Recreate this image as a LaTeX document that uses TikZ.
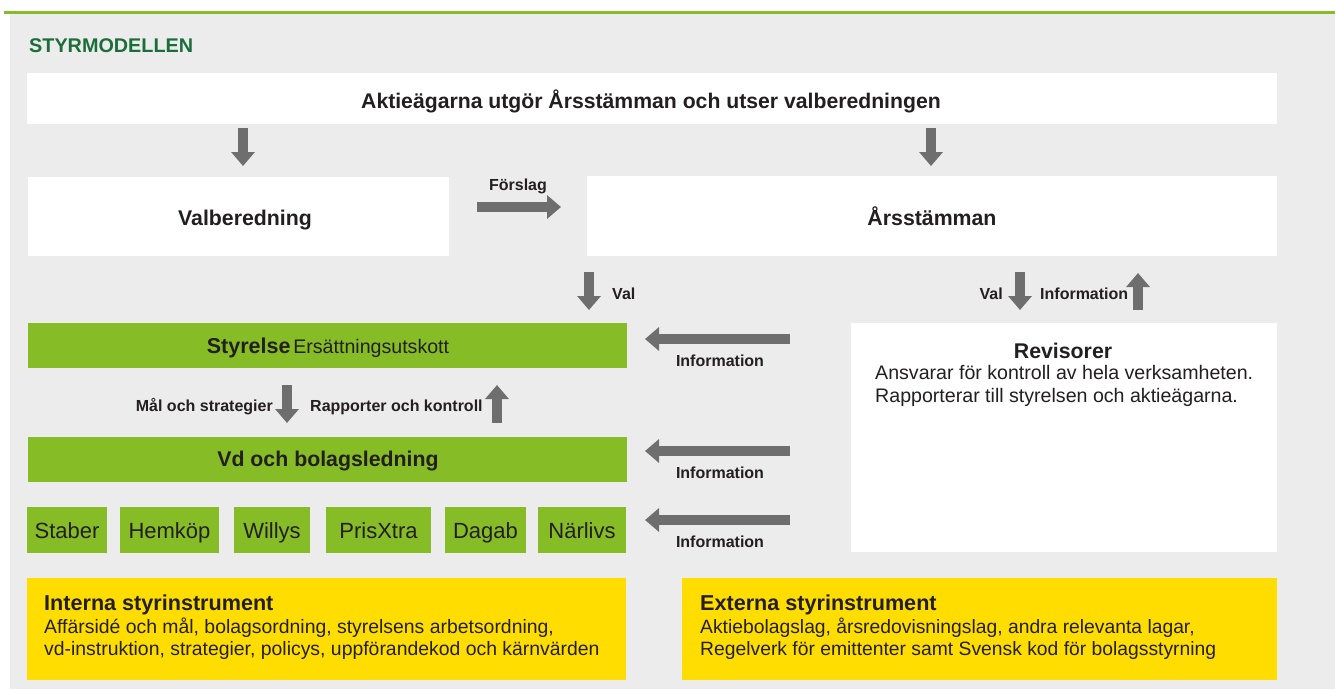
\documentclass[tikz,border=0pt]{standalone}
\usepackage{fontspec}
\setmainfont{Liberation Sans}
\usetikzlibrary{arrows.meta}
\definecolor{bggray}{HTML}{ECECEC}
\definecolor{lgreen}{HTML}{86BC25}
\definecolor{dgreen}{HTML}{1B6E3A}
\definecolor{yel}{HTML}{FFDD00}
\definecolor{agray}{HTML}{6E6E6E}
\definecolor{txt}{HTML}{231F20}
\begin{document}
\begin{tikzpicture}[x=1pt,y=-1pt,
  box/.style={anchor=north west, inner sep=0pt, outer sep=0pt, text=txt},
  wbox/.style={box, fill=white},
  gbox/.style={box, fill=lgreen},
  ybox/.style={box, fill=yel},
  fat/.style={draw=agray, line width=10.5pt, -{Triangle[width=23pt,length=14pt]}},
  lbl/.style={text=txt, inner sep=0pt, font=\fontsize{16}{19}\selectfont\bfseries},
  bigb/.style={font=\fontsize{21.3}{25}\selectfont\bfseries},
  reg/.style={font=\fontsize{19.6}{23}\selectfont},
  txtn/.style={text=txt, inner sep=0pt}
]
\useasboundingbox (0,0) rectangle (1335,689);
\fill[white] (0,0) rectangle (1335,689);
\fill[bggray] (10,14) rectangle (1335,689);
\fill[lgreen] (4,11) rectangle (1335,14);
\node[txtn, anchor=base west, text=dgreen, font=\fontsize{19.8}{23}\selectfont\bfseries] (title) at (29,52) {STYRMODELLEN};

% top box
\node[wbox, minimum width=1250pt, minimum height=51pt] (top) at (27,73) {};
\node[txtn, anchor=base, font=\fontsize{21.2}{25}\selectfont\bfseries] (toptxt) at (651,108.5) {Aktieägarna utgör Årsstämman och utser valberedningen};

\coordinate (a1s) at (243,128); \coordinate (a1e) at (243,166);
\coordinate (a2s) at (931,128); \coordinate (a2e) at (931,166);
\draw[fat] (a1s) -- (a1e);
\draw[fat] (a2s) -- (a2e);

% Valberedning / Årsstämman
\node[wbox, minimum width=421pt, minimum height=79pt] (valb) at (28,177) {};
\node[txtn, bigb, anchor=base] (valbt) at (245,225.5) {Valberedning};
\node[wbox, minimum width=690pt, minimum height=80pt] (ars) at (587,176) {};
\node[txtn, bigb, anchor=base] (arst) at (932,225.5) {Årsstämman};

\node[lbl, anchor=base] (forsl) at (518,190) {Förslag};
\coordinate (f1) at (477,207); \coordinate (f2) at (561,207);
\draw[fat] (f1) -- (f2);

% Val arrows
\coordinate (v1s) at (589,272); \coordinate (v1e) at (589,310);
\draw[fat] (v1s) -- (v1e);
\node[lbl, anchor=base west] (val1) at (612,299) {Val};
\node[lbl, anchor=base east] (val2) at (1003,299) {Val};
\coordinate (v2s) at (1020,272); \coordinate (v2e) at (1020,310);
\draw[fat] (v2s) -- (v2e);
\node[lbl, anchor=base west] (inf0) at (1040,299) {Information};
\coordinate (i0s) at (1138,310); \coordinate (i0e) at (1138,273);
\draw[fat] (i0s) -- (i0e);

% Styrelse
\node[gbox, minimum width=599pt, minimum height=45pt] (styr) at (28,323) {};
\node[txtn, anchor=base] (styrt) at (328,353.5) {{\fontsize{21.5}{25}\selectfont\bfseries Styrelse} {\fontsize{19.6}{23}\selectfont Ersättningsutskott}};

\node[lbl, anchor=base east] (mal) at (273,411) {Mål och strategier};
\coordinate (m1) at (287,385); \coordinate (m2) at (287,423);
\draw[fat] (m1) -- (m2);
\node[lbl, anchor=base west] (rapp) at (310,411) {Rapporter och kontroll};
\coordinate (r1) at (497,423); \coordinate (r2) at (497,385);
\draw[fat] (r1) -- (r2);

% Vd
\node[gbox, minimum width=599pt, minimum height=45pt] (vd) at (28,437) {};
\node[txtn, bigb, anchor=base] (vdt) at (328,466.5) {Vd och bolagsledning};

% small boxes
\foreach \nm/\xa/\xb/\lab in {stab/27/107/Staber, hem/120/219/Hemköp, wil/234/310/Willys, pris/326/431/PrisXtra, dag/445/526/Dagab, nar/538/626/Närlivs}{
  \node[gbox, minimum width={\xb-\xa}, minimum height=46pt] (\nm) at (\xa,507) {};
  \node[txtn, anchor=base, font=\fontsize{22}{25}\selectfont] (\nm t) at ({(\xa+\xb)/2},538) {\lab};
}

% Information arrows
\foreach \y/\nm in {339/ia, 451/ib, 520/ic}{
  \coordinate (\nm s) at (790,\y); \coordinate (\nm e) at (645,\y);
  \draw[fat] (\nm s) -- (\nm e);
  \node[lbl, anchor=base] (\nm l) at (720,\y+27) {Information};
}

% Revisorer
\node[wbox, minimum width=426pt, minimum height=229pt] (rev) at (851,323) {};
\node[txtn, bigb, anchor=base] (revt) at (1063,358.5) {Revisorer};
\node[txtn, reg, anchor=north west, align=left] (revb) at (875,365.5) {Ansvarar för kontroll av hela verksamheten.\\Rapporterar till styrelsen och aktieägarna.};

% Yellow boxes
\node[ybox, minimum width=599pt, minimum height=102pt] (intb) at (27,578) {};
\node[txtn, anchor=north west, align=left, font=\fontsize{19.4}{22.5}\selectfont] (intt) at (44,595) {{\fontsize{21.6}{22.5}\selectfont\bfseries Interna styrinstrument}\\
Affärsidé och mål, bolagsordning, styrelsens arbetsordning,\\
vd-instruktion, strategier, policys, uppförandekod och kärnvärden};
\node[ybox, minimum width=595pt, minimum height=102pt] (extb) at (682,578) {};
\node[txtn, anchor=north west, align=left, font=\fontsize{19.3}{22.5}\selectfont] (extt) at (700,595) {{\fontsize{21.6}{22.5}\selectfont\bfseries Externa styrinstrument}\\
Aktiebolagslag, årsredovisningslag, andra relevanta lagar,\\
Regelverk för emittenter samt Svensk kod för bolagsstyrning};
\end{tikzpicture}
\end{document}
